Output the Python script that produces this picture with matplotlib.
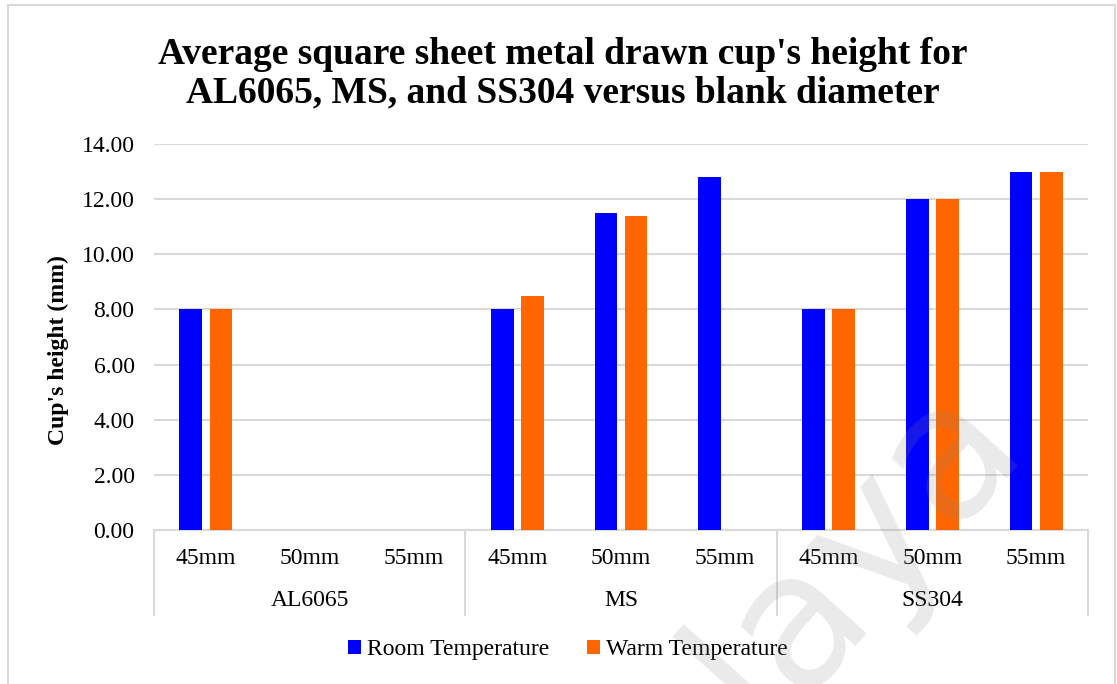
import numpy as np
import matplotlib
matplotlib.use("Agg")
import matplotlib.pyplot as plt
from matplotlib.patches import Rectangle
from matplotlib.transforms import blended_transform_factory

# Data
materials = ["AL6065", "MS", "SS304"]
diameters = ["45mm", "50mm", "55mm"]
room_temp = [8.0, None, None, 8.0, 11.5, 12.8, 8.0, 12.0, 13.0]
warm_temp = [8.0, None, None, 8.5, 11.4, None, 8.0, 12.0, 13.0]
yticks = [0, 2, 4, 6, 8, 10, 12, 14]

SERIF = "Liberation Serif"
BLUE = "#0000FF"
ORANGE = "#FF6600"
GRID = "#D9D9D9"
FS = 17

W, H = 1117, 684
fig = plt.figure(figsize=(W / 100, H / 100), dpi=100)
fig.patch.set_facecolor("white")

# Chart-area frame
fig.add_artist(Rectangle((7.5 / W, -0.05), (1115 - 7.5) / W, 1.05 - 5 / H,
                         transform=fig.transFigure, fill=False,
                         edgecolor="#D9D9D9", linewidth=1.5))

ax = fig.add_axes([154 / W, 1 - 530 / H, (1088 - 154) / W, (530 - 144) / H])
ax.set_xlim(0, 9)
ax.set_ylim(0, 14)

n = len(materials) * len(diameters)
centers = np.arange(n) + 0.5
bw = 0.22
off = 0.145

def masked(vals):
    idx = [i for i, v in enumerate(vals) if v is not None]
    return centers[idx], [vals[i] for i in idx]

xr, hr = masked(room_temp)
xw, hw = masked(warm_temp)
ax.bar(xr - off, hr, width=bw, color=BLUE, zorder=3, label="Room Temperature")
ax.bar(xw + off, hw, width=bw, color=ORANGE, zorder=3, label="Warm Temperature")

ax.set_yticks(yticks)
ax.set_yticklabels([f"{v:.2f}" for v in yticks], fontfamily=SERIF, fontsize=FS)
ax.tick_params(axis="y", length=0, pad=14, colors="#000000")
ax.tick_params(axis="x", length=0, labelbottom=False)
ax.grid(axis="y", color=GRID, linewidth=1.5, zorder=0)
for s in ["top", "right", "left"]:
    ax.spines[s].set_visible(False)
ax.spines["bottom"].set_color(GRID)
ax.spines["bottom"].set_linewidth(1.5)

ax.set_ylabel("Cup's height (mm)", fontfamily=SERIF, fontsize=FS,
              fontweight="bold")
ax.yaxis.set_label_coords((69 - 154) / (1088 - 154), (530 - 350) / (530 - 144))

# Two-level category axis
tr = blended_transform_factory(ax.transData, fig.transFigure)
y_axis = 1 - 530 / H
y_bottom = 1 - 615 / H
for xb in [0, 3, 6, 9]:
    ax.plot([xb, xb], [y_axis, y_bottom], transform=tr, color=GRID,
            linewidth=1.5, clip_on=False)
for i, c in enumerate(centers):
    ax.text(c, 1 - 558 / H, diameters[i % 3], transform=tr, ha="center",
            va="center", fontfamily=SERIF, fontsize=FS)
for j, m in enumerate(materials):
    ax.text(3 * j + 1.5, 1 - 601 / H, m, transform=tr, ha="center",
            va="center", fontfamily=SERIF, fontsize=FS)

fig.text(0.5 * (160 + 966) / W, 1 - 74 / H,
         "Average square sheet metal drawn cup's height for\n"
         "AL6065, MS, and SS304 versus blank diameter",
         ha="center", va="center", fontfamily=SERIF, fontsize=27,
         fontweight="bold", linespacing=1.12)

fig.legend(loc="center", bbox_to_anchor=(0.5 * (345 + 790) / W, 1 - 650 / H),
           ncol=2, frameon=False, prop={"family": SERIF, "size": FS},
           handlelength=0.55, handleheight=0.55, handletextpad=0.25,
           columnspacing=1.6)

# Faint diagonal watermark
fig.text(818 / W, 1 - 598 / H, "alaya", rotation=48, ha="center",
         va="center", fontfamily="DejaVu Sans", fontsize=135,
         color="#888888", alpha=0.18, zorder=10)

fig.savefig("out.png", dpi=100, facecolor="white")
